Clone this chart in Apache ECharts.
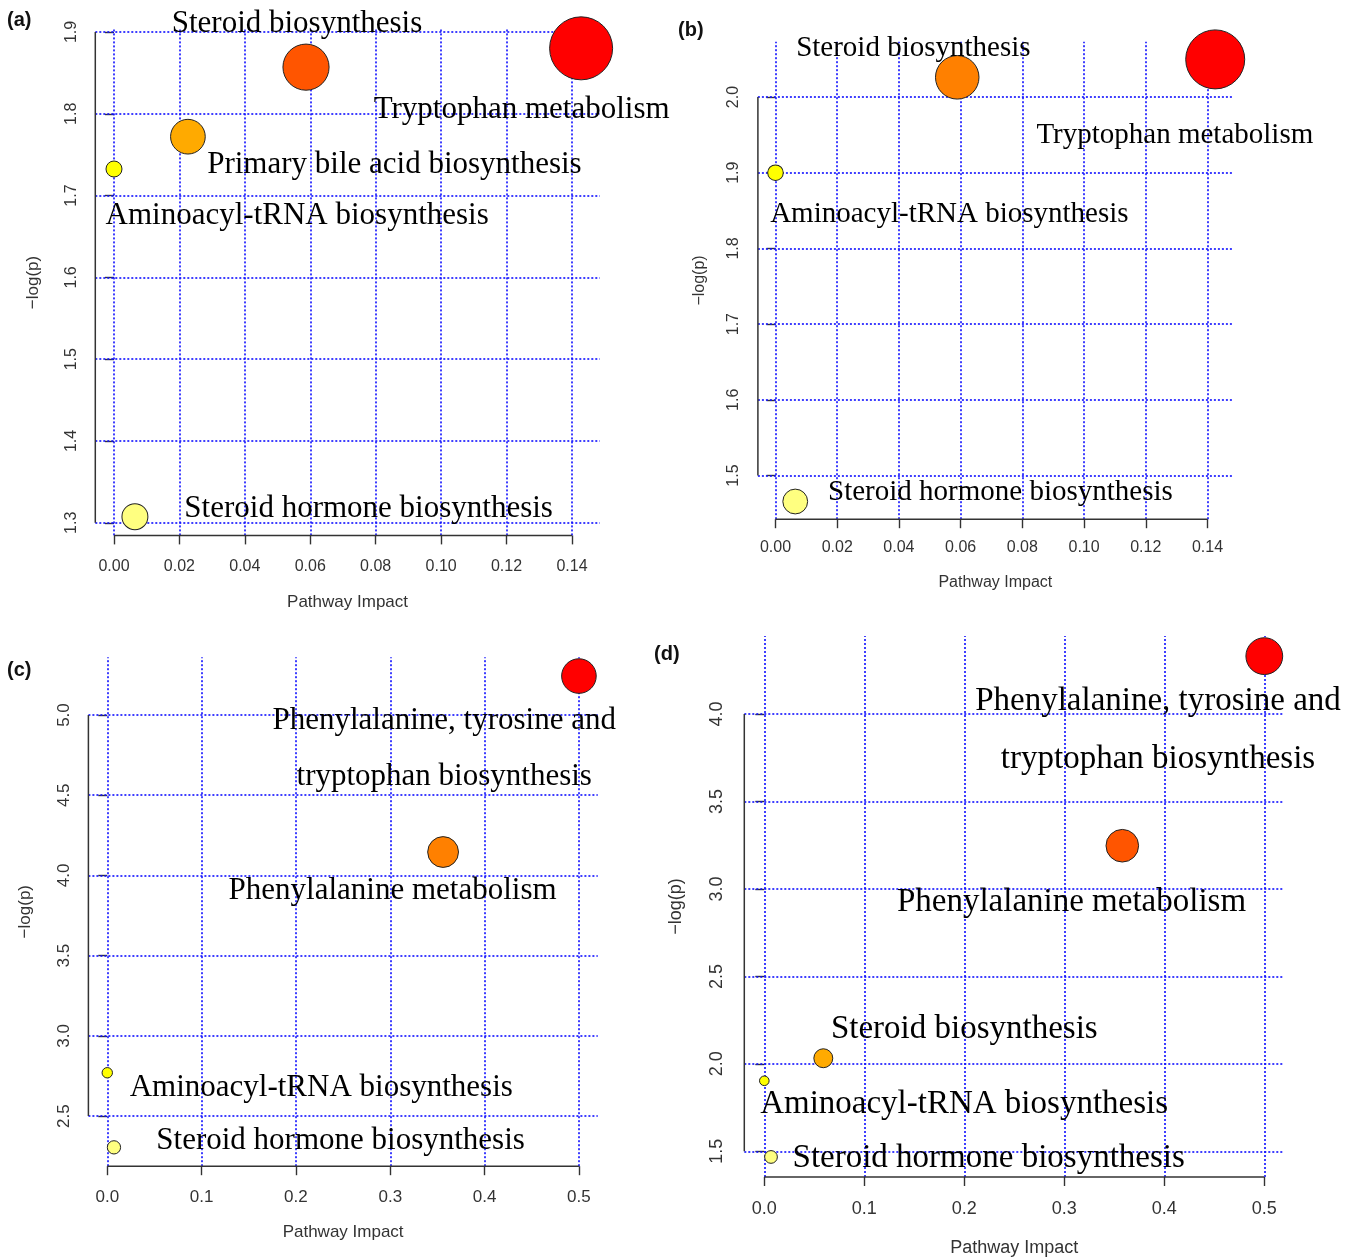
<!DOCTYPE html>
<html>
<head>
<meta charset="utf-8">
<script src="https://cdn.jsdelivr.net/npm/echarts@6/dist/echarts.min.js"></script>
<style>
  html, body { margin: 0; padding: 0; background: #fff; }
  #chart { width: 1355px; height: 1260px; }
</style>
</head>
<body>
<div id="chart"></div>
<script>
// ---------- data: pathway analysis summaries (impact vs -log(p)) ----------

// (a)
const pathwaysA = ['Tryptophan metabolism', 'Steroid biosynthesis', 'Primary bile acid biosynthesis',
                   'Aminoacyl-tRNA biosynthesis', 'Steroid hormone biosynthesis'];
const impactA = [0.1428, 0.0587, 0.0226, 0.0, 0.0064];
const logpA   = [1.880, 1.857, 1.772, 1.7325, 1.3075];
const xTicksA = [0, 0.02, 0.04, 0.06, 0.08, 0.10, 0.12, 0.14];
const yTicksA = [1.3, 1.4, 1.5, 1.6, 1.7, 1.8, 1.9];

// (b)
const pathwaysB = ['Tryptophan metabolism', 'Steroid biosynthesis',
                   'Aminoacyl-tRNA biosynthesis', 'Steroid hormone biosynthesis'];
const impactB = [0.1425, 0.0589, 0.0, 0.0064];
const logpB   = [2.0497, 2.026, 1.900, 1.4657];
const xTicksB = [0, 0.02, 0.04, 0.06, 0.08, 0.10, 0.12, 0.14];
const yTicksB = [1.5, 1.6, 1.7, 1.8, 1.9, 2.0];

// (c)
const pathwaysC = ['Phenylalanine, tyrosine and\ntryptophan biosynthesis', 'Phenylalanine metabolism',
                   'Aminoacyl-tRNA biosynthesis', 'Steroid hormone biosynthesis'];
const impactC = [0.5, 0.356, 0.0, 0.0071];
const logpC   = [5.243, 4.146, 2.770, 2.305];
const xTicksC = [0, 0.1, 0.2, 0.3, 0.4, 0.5];
const yTicksC = [2.5, 3.0, 3.5, 4.0, 4.5, 5.0];

// (d)
const pathwaysD = ['Phenylalanine, tyrosine and\ntryptophan biosynthesis', 'Phenylalanine metabolism',
                   'Steroid biosynthesis', 'Aminoacyl-tRNA biosynthesis', 'Steroid hormone biosynthesis'];
const impactD = [0.5, 0.358, 0.059, 0.0, 0.0067];
const logpD   = [4.331, 3.247, 2.032, 1.903, 1.4675];
const xTicksD = [0, 0.1, 0.2, 0.3, 0.4, 0.5];
const yTicksD = [1.5, 2.0, 2.5, 3.0, 3.5, 4.0];

const xTitle = 'Pathway Impact';
const yTitle = '\u2212log(p)';

// ---------- layout & styling ----------
const panels = [
  { tag: '(a)', names: pathwaysA, impact: impactA, logp: logpA, xTicks: xTicksA, yTicks: yTicksA, xDec: 2,
    grid: { left: 95.3, top: 29.6, width: 504.5, height: 505.8 }, tagPos: [7, 22.5],
    labelFont: 31, lineHeight: 56, tickFont: 16, nameFont: 17,
    xMargin: 23, yMargin: 16, xNameGap: 58, yNameGap: 53, radius: [8, 31.5],
    offsets: [[-59.5, 62], [-9, -43.5], [206.5, 28], [183.2, 47], [233.7, -8]] },
  { tag: '(b)', names: pathwaysB, impact: impactB, logp: logpB, xTicks: xTicksB, yTicks: yTicksB, xDec: 2,
    grid: { left: 757.9, top: 41.7, width: 474.9, height: 477.5 }, tagPos: [678, 32.5],
    labelFont: 29, lineHeight: 52, tickFont: 16, nameFont: 16,
    xMargin: 20, yMargin: 16, xNameGap: 55, yNameGap: 50, radius: [7.8, 29.5],
    offsets: [[-40.4, 76.5], [-43.9, -28.5], [173.9, 42], [205.2, -9]] },
  { tag: '(c)', names: pathwaysC, impact: impactC, logp: logpC, xTicks: xTicksC, yTicks: yTicksC, xDec: 1,
    grid: { left: 88.4, top: 657.2, width: 509.4, height: 509.0 }, tagPos: [7, 672],
    labelFont: 31, lineHeight: 56, tickFont: 17, nameFont: 17,
    xMargin: 23, yMargin: 16, xNameGap: 58, yNameGap: 55, radius: [5.2, 17.3],
    offsets: [[-134.7, 72.5], [-50.5, 38.8], [214, 14.9], [226.6, -6.5]] },
  { tag: '(d)', names: pathwaysD, impact: impactD, logp: logpD, xTicks: xTicksD, yTicks: yTicksD, xDec: 1,
    grid: { left: 744.3, top: 636.1, width: 540, height: 540.9 }, tagPos: [654, 656],
    labelFont: 33, lineHeight: 58, tickFont: 18, nameFont: 18,
    xMargin: 23, yMargin: 18, xNameGap: 62, yNameGap: 59, radius: [4.8, 18.4],
    offsets: [[-106.3, 74.4], [-50.8, 57.1], [141, -29.4], [199.8, 23.3], [217.7, 1.1]] }
];

// R-style heat palette, highest -log(p) first
function heatColors(n) {
  const j = Math.floor(n / 4), i = n - j, out = [];
  const hex = v => Math.round(v).toString(16).padStart(2, '0');
  for (let k = 0; k < i; k++) out.push('#ff' + hex(255 * k / (i - 1)) + '00');
  for (let k = 0; k < j; k++) {
    const from = 1 - 1 / (2 * j), to = 1 / (2 * j);
    const s = j === 1 ? from : from + (to - from) * k / (j - 1);
    out.push('#ffff' + hex(255 * (1 - s)));
  }
  return out;
}

// plot region padded by 4% of the data range on each side
function padded(arr) {
  const lo = Math.min(...arr), hi = Math.max(...arr), pad = (hi - lo) * 0.04;
  return [lo - pad, hi + pad];
}

const sans = 'Liberation Sans';
const serif = 'Liberation Serif';
const inkColor = '#333';

const option = {
  animation: false,
  backgroundColor: '#fff',
  grid: [], xAxis: [], yAxis: [], series: [], graphic: []
};

panels.forEach((p, idx) => {
  const [xMin, xMax] = padded(p.impact);
  const [yMin, yMax] = padded(p.logp);
  const colors = heatColors(p.names.length);
  const sq = p.impact.map(Math.sqrt);
  const sqLo = Math.min(...sq), sqHi = Math.max(...sq);

  option.grid.push(Object.assign({ containLabel: false }, p.grid));

  option.xAxis.push({
    type: 'value', gridIndex: idx, min: xMin, max: xMax,
    name: xTitle, nameLocation: 'middle', nameGap: p.xNameGap,
    nameTextStyle: { fontFamily: sans, fontSize: p.nameFont, color: inkColor },
    axisLine: { show: false },
    axisTick: { show: true, customValues: p.xTicks, length: 9, lineStyle: { color: inkColor, width: 1.4 } },
    axisLabel: { customValues: p.xTicks, margin: p.xMargin, fontFamily: sans, fontSize: p.tickFont,
                 color: inkColor, formatter: v => Number(v).toFixed(p.xDec) },
    splitLine: { show: false }
  });

  option.yAxis.push({
    type: 'value', gridIndex: idx, min: yMin, max: yMax,
    name: yTitle, nameLocation: 'middle', nameGap: p.yNameGap,
    nameTextStyle: { fontFamily: sans, fontSize: p.nameFont, color: inkColor },
    axisLine: { show: false },
    axisTick: { show: true, customValues: p.yTicks, length: 9, lineStyle: { color: inkColor, width: 1.4 } },
    axisLabel: { customValues: p.yTicks, rotate: 90, margin: p.yMargin, fontFamily: sans, fontSize: p.tickFont,
                 color: inkColor, formatter: v => Number(v).toFixed(1) },
    splitLine: { show: false }
  });

  // x axis line (first to last tick) + dotted blue grid beneath the bubbles
  option.series.push({
    type: 'line', xAxisIndex: idx, yAxisIndex: idx, silent: true, clip: false, z: 1,
    symbol: 'none', lineStyle: { color: inkColor, width: 1.5 },
    data: [[p.xTicks[0], yMin], [p.xTicks[p.xTicks.length - 1], yMin]],
    markLine: {
      silent: true, z: 1, symbol: ['none', 'none'], label: { show: false }, animation: false,
      lineStyle: { color: '#1010ff', type: [2, 2], width: 1.6 },
      data: p.xTicks.map(v => ({ xAxis: v })).concat(p.yTicks.map(v => ({ yAxis: v })))
    }
  });

  // y axis line (first to last tick)
  option.series.push({
    type: 'line', xAxisIndex: idx, yAxisIndex: idx, silent: true, clip: false, z: 1,
    symbol: 'none', lineStyle: { color: inkColor, width: 1.5 },
    data: [[xMin, p.yTicks[0]], [xMin, p.yTicks[p.yTicks.length - 1]]]
  });

  // bubbles: colour by -log(p) rank, radius by sqrt(impact)
  option.series.push({
    type: 'scatter', xAxisIndex: idx, yAxisIndex: idx, z: 6, clip: false,
    emphasis: { disabled: true },
    data: p.names.map((name, k) => {
      const t = sqHi > sqLo ? (sq[k] - sqLo) / (sqHi - sqLo) : 1;
      const r = p.radius[0] + (p.radius[1] - p.radius[0]) * t;
      return {
        name,
        value: [p.impact[k], p.logp[k]],
        symbolSize: 2 * r,
        itemStyle: { color: colors[k], borderColor: '#222', borderWidth: 1, opacity: 1 },
        label: {
          show: true, position: 'inside', offset: p.offsets[k],
          align: 'center', verticalAlign: 'middle',
          formatter: '{b}', fontFamily: serif, fontSize: p.labelFont,
          lineHeight: p.lineHeight, color: '#000', opacity: 1, textBorderWidth: 0
        }
      };
    })
  });

  option.graphic.push({
    type: 'text', left: p.tagPos[0], top: p.tagPos[1] - 12,
    style: { text: p.tag, fontFamily: sans, fontWeight: 'bold', fontSize: 20, fill: '#111' }
  });
});

const chart = echarts.init(document.getElementById('chart'), null, { renderer: 'canvas' });
chart.setOption(option);
</script>
</body>
</html>
